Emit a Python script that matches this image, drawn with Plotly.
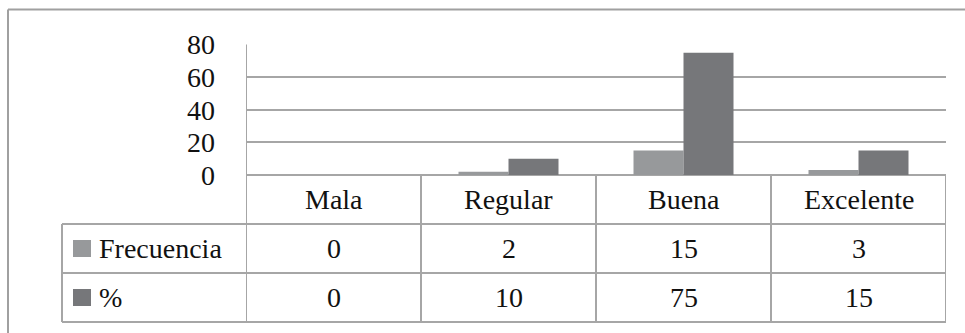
import plotly.graph_objects as go

categories = ["Mala", "Regular", "Buena", "Excelente"]
series_names = ["Frecuencia", "%"]
frecuencia = [0, 2, 15, 3]
porcentaje = [0, 10, 75, 15]
series_values = [frecuencia, porcentaje]
series_colors = ["#97999B", "#76777A"]
y_ticks = [0, 20, 40, 60, 80]

W, H = 965, 333
FONT = "Liberation Serif"
FS = 28
LINE = "#A6A6A6"
TXT = "#111111"

def px(x):
    return x / W

def py(y):
    return 1 - y / H

# pixel geometry
plot_left, plot_right = 246, 946
plot_top, plot_bottom = 44.5, 175
row_lines = [224, 273, 322]
table_left = 62

fig = go.Figure()
for name, vals, col in zip(series_names, series_values, series_colors):
    fig.add_trace(go.Bar(x=categories, y=vals, name=name, marker=dict(color=col, line=dict(width=0)),
                         showlegend=False))

shapes = []
# outer frame (top and left)
shapes.append(dict(type="line", xref="paper", yref="paper", x0=px(8), x1=1.0, y0=py(9.5), y1=py(9.5),
                   line=dict(color="#A0A0A0", width=2)))
shapes.append(dict(type="line", xref="paper", yref="paper", x0=px(8), x1=px(8), y0=py(9.5), y1=0,
                   line=dict(color="#A0A0A0", width=2)))
# vertical axis line extended through table
shapes.append(dict(type="line", xref="x", yref="paper", x0=-0.5, x1=-0.5, y0=py(plot_top), y1=py(row_lines[-1]),
                   line=dict(color=LINE, width=2)))
# column separators and right border
for i in range(len(categories)):
    shapes.append(dict(type="line", xref="x", yref="paper", x0=i + 0.5, x1=i + 0.5,
                       y0=py(plot_bottom), y1=py(row_lines[-1]), line=dict(color=LINE, width=2)))
# row lines
for ry in row_lines:
    shapes.append(dict(type="line", xref="paper", yref="paper", x0=px(table_left), x1=px(plot_right),
                       y0=py(ry), y1=py(ry), line=dict(color=LINE, width=2)))
# table left border
shapes.append(dict(type="line", xref="paper", yref="paper", x0=px(table_left), x1=px(table_left),
                   y0=py(row_lines[0]), y1=py(row_lines[-1]), line=dict(color=LINE, width=2)))

annotations = []
header_y = (plot_bottom + row_lines[0]) / 2
for c in categories:
    annotations.append(dict(x=c, y=py(header_y), xref="x", yref="paper", text=c, showarrow=False,
                            font=dict(family=FONT, size=FS, color=TXT), xanchor="center", yanchor="middle"))
for r, (name, vals, col) in enumerate(zip(series_names, series_values, series_colors)):
    y0, y1 = row_lines[r], row_lines[r + 1]
    cy = (y0 + y1) / 2
    for c, v in zip(categories, vals):
        annotations.append(dict(x=c, y=py(cy), xref="x", yref="paper", text=str(v), showarrow=False,
                                font=dict(family=FONT, size=FS, color=TXT), xanchor="center", yanchor="middle"))
    # legend key
    shapes.append(dict(type="rect", xref="paper", yref="paper", x0=px(73), x1=px(91),
                       y0=py(cy + 8.5), y1=py(cy - 8.5), fillcolor=col, line=dict(width=0)))
    annotations.append(dict(x=px(97), y=py(cy), xref="paper", yref="paper", text=name, showarrow=False,
                            font=dict(family=FONT, size=FS, color=TXT), xanchor="left", yanchor="middle"))

fig.update_layout(
    width=W, height=H,
    margin=dict(l=0, r=0, t=0, b=0, autoexpand=False),
    paper_bgcolor="white", plot_bgcolor="white",
    barmode="group", bargap=75 / 175, bargroupgap=0,
    showlegend=False,
    xaxis=dict(domain=[px(plot_left), px(plot_right)], range=[-0.5, 3.5], showticklabels=False,
               showgrid=False, zeroline=False, showline=False, ticks="", automargin=False),
    yaxis=dict(domain=[py(plot_bottom), py(plot_top)], range=[0, 80], tickvals=y_ticks,
               ticktext=[str(t) for t in y_ticks], showgrid=True, gridcolor=LINE, gridwidth=2,
               zeroline=True, zerolinecolor=LINE, zerolinewidth=2, showline=False, ticks="",
               automargin=False,
               ticklabelstandoff=30, tickfont=dict(family=FONT, size=FS, color=TXT)),
    shapes=shapes, annotations=annotations,
    font=dict(family=FONT, size=FS, color=TXT),
)

fig.write_html("out.html", config={"displayModeBar": False})
